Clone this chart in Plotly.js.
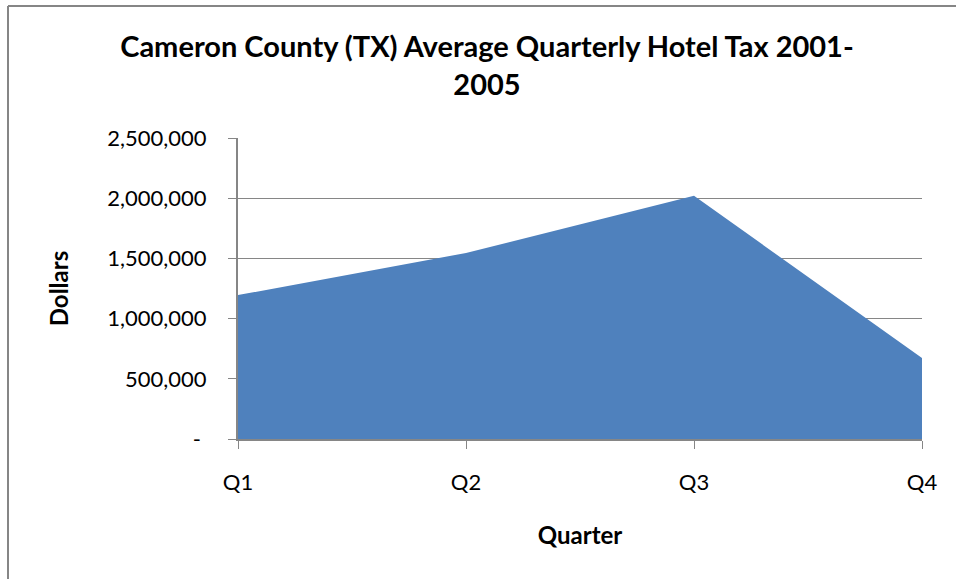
<!DOCTYPE html>
<html>
<head>
<meta charset="utf-8">
<script src="https://cdn.plot.ly/plotly-3.0.1.min.js"></script>
<style>
  html, body { margin: 0; padding: 0; background: #ffffff; }
  #chart { width: 956px; height: 579px; }
</style>
</head>
<body>
<div id="chart"></div>
<script>
// ---- data ----
const quarters = ["Q1", "Q2", "Q3", "Q4"];
const hotelTax = [1195000, 1545000, 2020000, 672000];
const yTickVals = [0, 500000, 1000000, 1500000, 2000000, 2500000];
const yTickLabels = ["- ", "500,000", "1,000,000", "1,500,000", "2,000,000", "2,500,000"];
const chartTitle = "Cameron County (TX) Average Quarterly Hotel Tax 2001-<br>2005";
const xTitle = "Quarter";
const yTitle = "Dollars";

// ---- geometry ----
const W = 956, H = 579;
const M = { l: 238, r: 34, t: 138, b: 140 };
const pw = W - M.l - M.r, ph = H - M.t - M.b;
const px = x => (x - M.l) / pw;            // pixel -> paper x
const py = y => (H - M.b - y) / ph;        // pixel -> paper y

const FONT = "Lato, 'Open Sans', sans-serif";
const GRAY = "#868686";

const trace = {
  type: "scatter",
  mode: "lines",
  x: quarters,
  y: hotelTax,
  fill: "tozeroy",
  fillcolor: "#4F81BD",
  line: { width: 0, color: "#4F81BD" },
  hoverinfo: "x+y"
};

const layout = {
  width: W, height: H,
  margin: M,
  paper_bgcolor: "#ffffff",
  plot_bgcolor: "#ffffff",
  showlegend: false,
  font: { family: FONT, color: "#000000", size: 22 },
  title: {
    text: chartTitle,
    font: { family: FONT, size: 29, color: "#000000", weight: "bold" },
    xref: "container", x: 487 / W, xanchor: "center",
    yref: "container", y: 1 - 57 / H, yanchor: "middle"
  },
  xaxis: {
    type: "category",
    range: [0, 3],
    showgrid: false,
    zeroline: false,
    showline: true, linecolor: GRAY, linewidth: 2,
    ticks: "outside", ticklen: 8, tickcolor: GRAY, tickwidth: 1,
    ticklabelstandoff: 15,
    tickfont: { family: FONT, size: 22, color: "#000" },
    title: { text: xTitle, font: { family: FONT, size: 24, weight: "bold", color: "#000" }, standoff: 33 },
    fixedrange: true
  },
  yaxis: {
    range: [0, 2500000],
    tickvals: yTickVals,
    ticktext: yTickLabels,
    showgrid: true, gridcolor: GRAY, gridwidth: 1,
    zeroline: false,
    showline: true, linecolor: GRAY, linewidth: 2,
    ticks: "outside", ticklen: 8, tickcolor: GRAY, tickwidth: 1,
    ticklabelstandoff: 17,
    tickfont: { family: FONT, size: 22, color: "#000" },
    title: { text: yTitle, font: { family: FONT, size: 24, weight: "bold", color: "#000" }, standoff: 32 },
    fixedrange: true
  },
  shapes: [
    { type: "line", xref: "paper", yref: "paper", x0: px(8), x1: px(970), y0: py(6), y1: py(6),
      line: { color: GRAY, width: 2 } },
    { type: "line", xref: "paper", yref: "paper", x0: px(8), x1: px(8), y0: py(6), y1: py(590),
      line: { color: GRAY, width: 2 } }
  ]
};

Plotly.newPlot("chart", [trace], layout, { displayModeBar: false, staticPlot: true });
</script>
</body>
</html>
